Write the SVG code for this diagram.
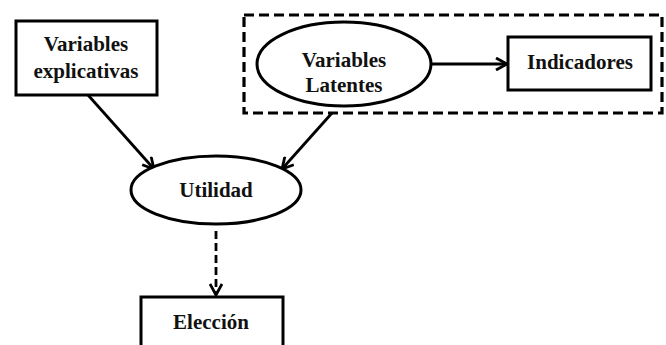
<svg xmlns="http://www.w3.org/2000/svg" width="666" height="345" viewBox="0 0 666 345">
<style>
.box{fill:#fff;stroke:#000;stroke-width:3}
.ell{fill:#fff;stroke:#000;stroke-width:3}
.t{font-family:"Liberation Serif","Times New Roman",serif;font-weight:bold;font-size:21px;text-anchor:middle;fill:#111}
.c{stroke:#000;stroke-width:2.8;fill:none}
</style>
<defs>
<marker id="ah" viewBox="0 0 14 14" refX="12.5" refY="7" markerWidth="14" markerHeight="14" markerUnits="userSpaceOnUse" orient="auto">
<path d="M1.5,1 L12.5,7 L1.5,13" fill="none" stroke="#000" stroke-width="2.8"/>
</marker>
</defs>
<rect x="0" y="0" width="666" height="345" fill="#fff"/>
<g id="grupo-latente">
<rect x="244" y="15" width="418" height="98" fill="none" stroke="#000" stroke-width="3.2" stroke-dasharray="10,5"/>
</g>
<g id="connectors">
<line class="c" x1="88" y1="95" x2="154" y2="169" marker-end="url(#ah)"/>
<line class="c" x1="332" y1="113" x2="282" y2="169" marker-end="url(#ah)"/>
<line class="c" x1="432" y1="64" x2="507" y2="64" marker-end="url(#ah)"/>
<line class="c" x1="216" y1="231" x2="216" y2="295" stroke-dasharray="8,4" marker-end="url(#ah)"/>
</g>
<g id="variables-explicativas">
<rect class="box" x="16" y="21" width="141" height="74"/>
<text class="t" x="86" y="51">Variables</text>
<text class="t" x="86" y="78">explicativas</text>
</g>
<g id="variables-latentes">
<ellipse class="ell" cx="344" cy="64" rx="87" ry="42"/>
<text class="t" x="344" y="67">Variables</text>
<text class="t" x="344" y="92">Latentes</text>
</g>
<g id="indicadores">
<rect class="box" x="508" y="37" width="143" height="53"/>
<text class="t" x="580" y="69">Indicadores</text>
</g>
<g id="utilidad">
<ellipse class="ell" cx="216" cy="190" rx="85" ry="34"/>
<text class="t" x="216" y="197">Utilidad</text>
</g>
<g id="eleccion">
<rect class="box" x="141" y="297" width="142" height="60"/>
<text class="t" x="211" y="329">Elección</text>
</g>
</svg>
